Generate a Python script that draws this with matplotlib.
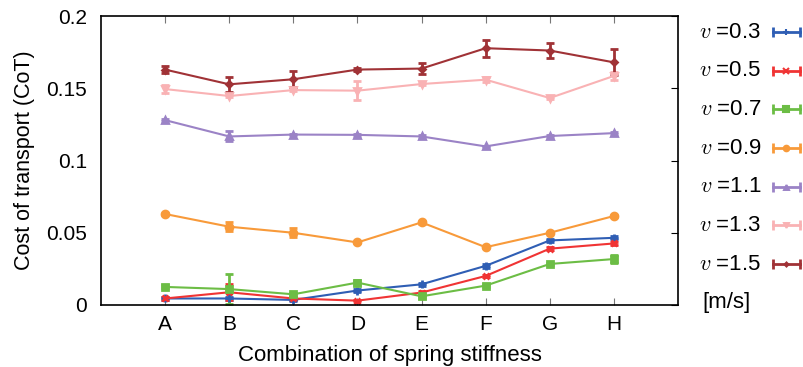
import matplotlib.pyplot as plt
from matplotlib.lines import Line2D

plt.rcParams['font.family'] = ['Liberation Sans', 'DejaVu Sans']
plt.rcParams['mathtext.fontset'] = 'cm'

combos = ['A', 'B', 'C', 'D', 'E', 'F', 'G', 'H']
speeds = ['0.3', '0.5', '0.7', '0.9', '1.1', '1.3', '1.5']

# mean CoT per speed
cot_03 = [0.0045, 0.0045, 0.0035, 0.0100, 0.0143, 0.0271, 0.0447, 0.0465]
cot_05 = [0.0045, 0.0088, 0.0045, 0.0030, 0.0086, 0.0201, 0.0390, 0.0426]
cot_07 = [0.0125, 0.0110, 0.0074, 0.0155, 0.0060, 0.0134, 0.0284, 0.0318]
cot_09 = [0.0630, 0.0542, 0.0500, 0.0433, 0.0572, 0.0400, 0.0500, 0.0616]
cot_11 = [0.1280, 0.1167, 0.1180, 0.1178, 0.1167, 0.1098, 0.1170, 0.1190]
cot_13 = [0.1495, 0.1447, 0.1488, 0.1484, 0.1530, 0.1560, 0.1433, 0.1586]
cot_15 = [0.1630, 0.1528, 0.1563, 0.1630, 0.1637, 0.1778, 0.1762, 0.1680]

# std errors
err_03 = [0.0010, 0.0010, 0.0005, 0.0010, 0.0010, 0.0015, 0.0010, 0.0010]
err_05 = [0.0010, 0.0055, 0.0008, 0.0005, 0.0010, 0.0010, 0.0010, 0.0010]
err_07 = [0.0010, 0.0105, 0.0010, 0.0020, 0.0010, 0.0010, 0.0010, 0.0025]
err_09 = [0.0005, 0.0030, 0.0030, 0.0005, 0.0008, 0.0005, 0.0005, 0.0005]
err_11 = [0.0005, 0.0035, 0.0005, 0.0005, 0.0008, 0.0005, 0.0008, 0.0005]
err_13 = [0.0028, 0.0005, 0.0005, 0.0065, 0.0005, 0.0018, 0.0005, 0.0025]
err_15 = [0.0022, 0.0050, 0.0055, 0.0008, 0.0040, 0.0060, 0.0055, 0.0090]

series = [cot_03, cot_05, cot_07, cot_09, cot_11, cot_13, cot_15]
errors = [err_03, err_05, err_07, err_09, err_11, err_13, err_15]
colors = ['#2f5eb4', '#f03434', '#6cbd45', '#f89a3a', '#9b83c6', '#f9b2b4', '#a03236']
markers = ['+', 'x', 's', 'o', '^', 'v', 'D']
msizes = [6, 5, 5, 5, 4.5, 4.5, 3]

fig = plt.figure(figsize=(8.04, 3.67), dpi=100)
ax = fig.add_axes([0.1256, 0.169, 0.7177, 0.787])

x = list(range(len(combos)))
for ys, es, c, m, ms in zip(series, errors, colors, markers, msizes):
    ax.errorbar(x, ys, yerr=es, color=c, marker=m, markersize=ms,
                markeredgewidth=2, linewidth=1.5, capsize=3, capthick=2,
                elinewidth=2)

ax.set_xlim(-1, 8)
ax.set_ylim(0, 0.2)
ax.set_xticks(x)
ax.set_xticklabels(combos)
ax.set_yticks([0, 0.05, 0.1, 0.15, 0.2])
ax.set_yticklabels(['0', '0.05', '0.1', '0.15', '0.2'])
ax.tick_params(axis='x', direction='in', top=True, bottom=True, length=5,
               color='#777777', labelsize=15, pad=7)
ax.tick_params(axis='y', direction='in', left=False, right=True, length=5,
               labelleft=True, labelsize=15, pad=10)
for s in ax.spines.values():
    s.set_linewidth(1.2)

ax.set_xlabel('Combination of spring stiffness', fontsize=16, labelpad=8)
ax.set_ylabel('Cost of transport (CoT)', fontsize=15.5, labelpad=8)

# legend drawn by hand, gnuplot-like
y0 = 1 - 32 / 367
dy = 38.7 / 367
for i, (sp, c, m, ms) in enumerate(zip(speeds, colors, markers, msizes)):
    yy = y0 - i * dy
    fig.text(0.947, yy, r'$v$ =' + sp, ha='right', va='center', fontsize=16)
    fig.add_artist(Line2D([0.961, 0.995], [yy, yy], color=c, linewidth=2,
                          transform=fig.transFigure))
    fig.add_artist(Line2D([0.961, 0.995], [yy, yy], color=c, linestyle='none',
                          marker='|', markersize=7, markeredgewidth=2,
                          transform=fig.transFigure))
    fig.add_artist(Line2D([0.978], [yy], color=c, linestyle='none',
                          marker=m, markersize=ms - 1, markeredgewidth=1.5,
                          transform=fig.transFigure))
fig.text(0.874, y0 - 7 * dy, '[m/s]', ha='left', va='center', fontsize=16)

fig.savefig('out.png', dpi=100)
